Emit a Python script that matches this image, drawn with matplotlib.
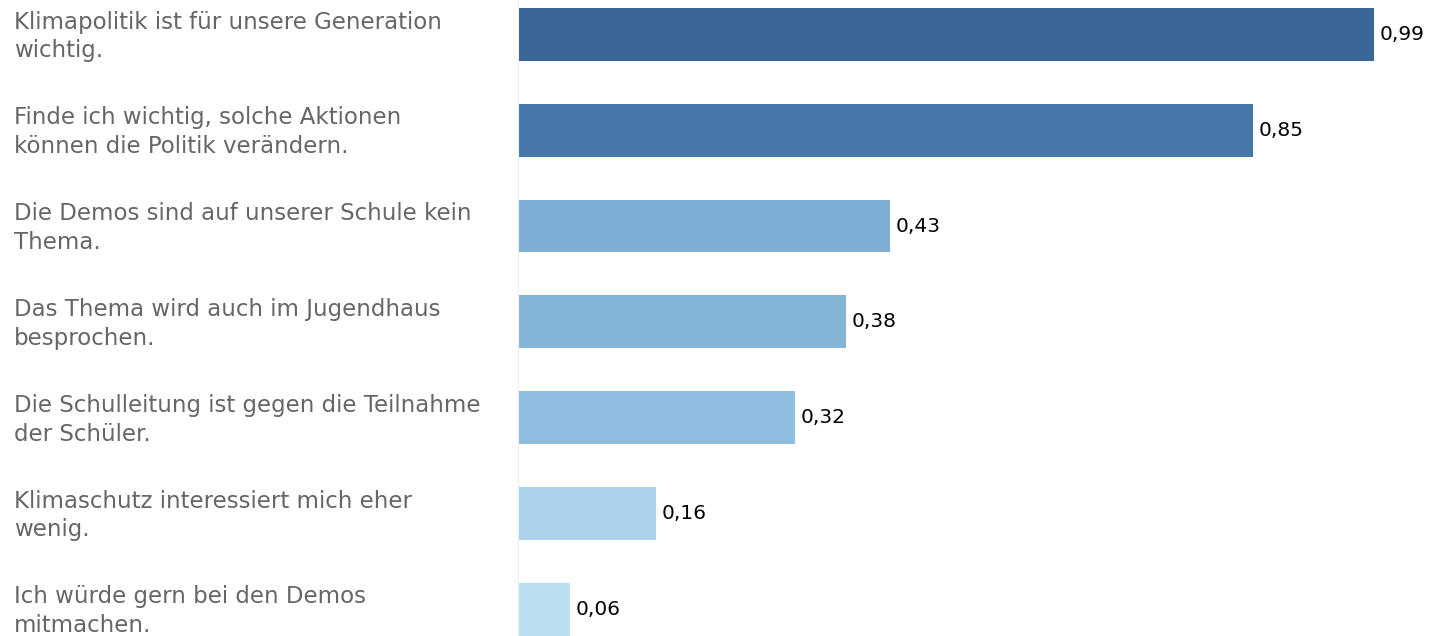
import matplotlib.pyplot as plt
import matplotlib.transforms as mtransforms

labels = ['Klimapolitik ist für unsere Generation\nwichtig.',
          'Finde ich wichtig, solche Aktionen\nkönnen die Politik verändern.',
          'Die Demos sind auf unserer Schule kein\nThema.',
          'Das Thema wird auch im Jugendhaus\nbesprochen.',
          'Die Schulleitung ist gegen die Teilnahme\nder Schüler.',
          'Klimaschutz interessiert mich eher\nwenig.',
          'Ich würde gern bei den Demos\nmitmachen.']
values = [0.99, 0.85, 0.43, 0.38, 0.32, 0.16, 0.06]
colors = ['#3b6796', '#4777a8', '#7eaed5', '#85b4d9', '#8fbde0', '#acd3eb', '#badfef']

plt.rcParams['font.family'] = ['DejaVu Sans']

fig = plt.figure(figsize=(14.3, 6.36), dpi=100)
ax = fig.add_axes([518 / 1430, 0, 1 - 518 / 1430, 1])

pos = list(range(len(values)))
ax.barh(pos, values, height=0.55, color=colors)
ax.set_xlim(0, 1.055)
ax.set_ylim(6.28, -0.36)

for s in ['top', 'right', 'bottom']:
    ax.spines[s].set_visible(False)
ax.spines['left'].set_color('#eeeeee')
ax.set_xticks([])
ax.set_yticks([])

trans = mtransforms.blended_transform_factory(fig.transFigure, ax.transData)
trans = mtransforms.offset_copy(trans, fig=fig, x=0, y=-1.5, units='points')
offset = mtransforms.offset_copy(ax.transData, fig=fig, x=4, y=0, units='points')
for i, (lab, v) in enumerate(zip(labels, values)):
    ax.text(14 / 1430, i, lab, transform=trans, ha='left', va='center',
            fontsize=16.5, color='#666666', linespacing=1.32)
    ax.text(v, i, ('%.2f' % v).replace('.', ','), transform=offset,
            ha='left', va='center', fontsize=14.5, color='black')

fig.savefig('out.png', dpi=100)
